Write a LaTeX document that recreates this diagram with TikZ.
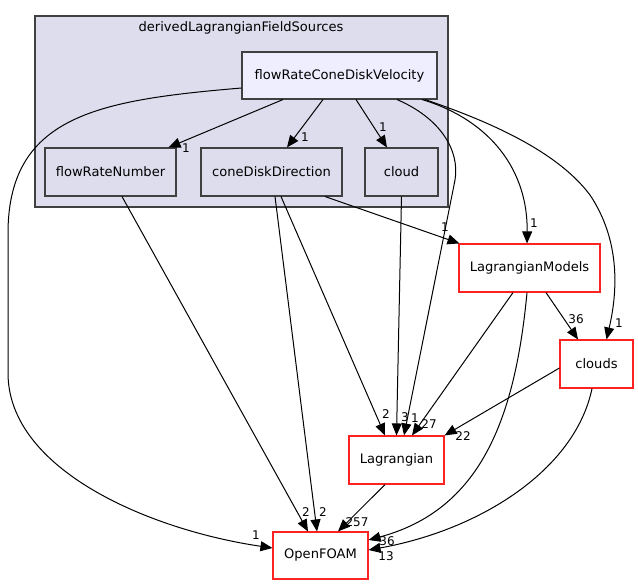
\documentclass[tikz,border=0pt]{standalone}
\usepackage{fontspec}
\setmainfont{DejaVu Sans}
\usetikzlibrary{arrows.meta,calc}
\definecolor{clfill}{HTML}{DDDDEE}
\definecolor{mainfill}{HTML}{EEEEFF}
\definecolor{bord}{HTML}{404040}
\definecolor{redb}{HTML}{FF2222}
\tikzset{
  dirbox/.style={draw=bord, line width=0.8pt, fill=clfill, inner sep=0pt, font=\fontsize{9.8}{12}\selectfont},
  mainbox/.style={dirbox, fill=mainfill},
  extbox/.style={draw=redb, line width=0.85pt, fill=white, inner sep=0pt, font=\fontsize{9.8}{12}\selectfont},
  dep/.style={draw=black, line width=0.75pt, -{Triangle[length=9pt,width=7.5pt]}},
  lbl/.style={inner sep=0pt, font=\fontsize{9}{10}\selectfont},
}
\begin{document}
\begin{tikzpicture}[x=0.75pt,y=-0.75pt]
\useasboundingbox (0,0) rectangle (638,585);
% cluster
\node[draw=bord, line width=0.8pt, fill=clfill, minimum width=413*0.75pt, minimum height=191*0.75pt, inner sep=0pt] (cl) at (241.5,111.5) {};
\node[inner sep=0pt, font=\fontsize{9.8}{12}\selectfont] (cltitle) at (241,28) {derivedLagrangianFieldSources};
% nodes
\node[mainbox, minimum width=195*0.75pt, minimum height=47*0.75pt] (fr) at (339.5,75.5) {flowRateConeDiskVelocity};
\node[dirbox, minimum width=131*0.75pt, minimum height=48*0.75pt] (frn) at (110.5,172) {flowRateNumber};
\node[dirbox, minimum width=141*0.75pt, minimum height=48*0.75pt] (cdd) at (271.5,172) {coneDiskDirection};
\node[dirbox, minimum width=73*0.75pt, minimum height=48*0.75pt] (cld) at (401.5,172) {cloud};
\node[extbox, minimum width=141*0.75pt, minimum height=48*0.75pt] (lm) at (529.5,268) {LagrangianModels};
\node[extbox, minimum width=73*0.75pt, minimum height=48*0.75pt] (cls) at (596.5,364) {clouds};
\node[extbox, minimum width=95*0.75pt, minimum height=48*0.75pt] (lag) at (396.5,460) {Lagrangian};
\node[extbox, minimum width=95*0.75pt, minimum height=47*0.75pt] (of) at (320.5,555.5) {OpenFOAM};
% edges
\draw[dep] ($(fr.south)+(-56.5,0)$) -- ($(frn.north)+(58,0)$);
\draw[dep] ($(fr.south)+(-16.5,0)$) -- ($(cdd.north)+(15.5,0)$);
\draw[dep] ($(fr.south)+(16.5,0)$) -- ($(cld.north)+(-14.5,0)$);
\draw[dep] ($(fr.west)+(0,12.5)$) .. controls (100,100) and (10,115) .. (8,230) -- (8,373) .. controls (8,470) and (150,530) .. ($(of.west)+(0,-7.5)$);
\draw[dep] ($(fr.south)+(57.5,0)$) .. controls (440,118) and (460,150) .. (455,180) -- ($(lag.north)+(7.5,0)$);
\draw[dep] ($(fr.south)+(82.5,0)$) .. controls (490,120) and (528,170) .. ($(lm.north)+(-2.5,0)$);
\draw[dep] ($(fr.south)+(85.5,0)$) .. controls (500,125) and (560,155) .. (590,195) .. controls (620,240) and (618,290) .. ($(cls.north)+(10,0)$);
\draw[dep] ($(frn.south)+(11.5,0)$) -- ($(of.north)+(-12.5,0)$);
\draw[dep] ($(cdd.south)+(3.5,0)$) -- ($(of.north)+(-3.5,0)$);
\draw[dep] ($(cdd.south)+(9.5,0)$) -- ($(lag.north)+(-11.5,0)$);
\draw[dep] ($(cdd.south)+(53.5,0)$) -- ($(lm.north west)+(1,0)$);
\draw[dep] (cld.south) -- (lag.north);
\draw[dep] ($(lm.south)+(-16.5,0)$) -- ($(lag.north)+(15.5,0)$);
\draw[dep] ($(lm.south)+(16.5,0)$) -- ($(cls.north)+(-18.5,0)$);
\draw[dep] ($(lm.south)+(-2.5,0)$) .. controls (515,420) and (480,510) .. ($(of.east)+(0,-15.5)$);
\draw[dep] ($(cls.west)+(0,4)$) -- (lag.north east);
\draw[dep] ($(cls.south)+(-4.5,0)$) .. controls (575,470) and (480,530) .. ($(of.east)+(0,-5.5)$);
\draw[dep] ($(lag.south)+(-11.5,0)$) -- ($(of.north)+(17.5,0)$);
% labels
\node[lbl] (l1) at (186,148) {1};
\node[lbl] (l2) at (305,137) {1};
\node[lbl] (l3) at (383,127) {1};
\node[lbl] (l4) at (256,535) {1};
\node[lbl] (l5) at (415,418) {1};
\node[lbl] (l6) at (534,223) {1};
\node[lbl] (l7) at (619,323) {1};
\node[lbl] (l8) at (306,512) {2};
\node[lbl] (l9) at (323,512) {2};
\node[lbl] (l10) at (386,414) {2};
\node[lbl] (l11) at (445,227) {1};
\node[lbl] (l12) at (405,417) {3};
\node[lbl] (l13) at (429,424) {27};
\node[lbl] (l14) at (576,319) {36};
\node[lbl] (l15) at (387,541) {36};
\node[lbl] (l16) at (463,436) {22};
\node[lbl] (l17) at (386,556) {13};
\node[lbl] (l18) at (357,522) {257};
\end{tikzpicture}
\end{document}
